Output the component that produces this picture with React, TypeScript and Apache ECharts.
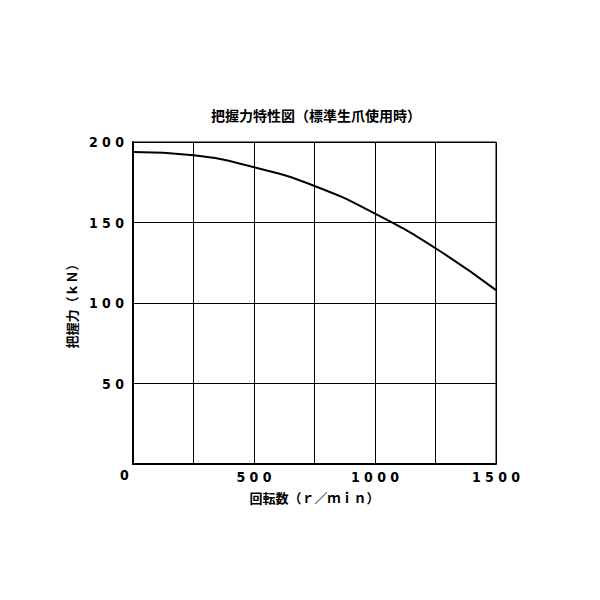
import React, { useEffect, useRef } from "react";
import * as echarts from "echarts";

const speeds = [0, 250, 500, 750, 1000, 1250, 1500];
const gripForce = [193.8, 191.7, 184.3, 172.7, 155.5, 134, 108];
const xTicksShown = [500, 1000, 1500];
const yTicksShown = [50, 100, 150, 200];

const spaced = (v: number) => String(v).split("").join(" ");
const FONT = "'DejaVu Sans Condensed', 'Liberation Mono', monospace";
const CJK = "'Noto Sans CJK JP', 'Noto Sans CJK SC', sans-serif";

export default function App() {
  const ref = useRef<HTMLDivElement>(null);
  useEffect(() => {
    if (!ref.current) return;
    const chart = echarts.init(ref.current, undefined, { renderer: "svg" });
    chart.setOption({
      animation: false,
      backgroundColor: "#ffffff",
      title: {
        text: "把握力特性図（標準生爪使用時）",
        left: 311,
        top: 103,
        textAlign: "center",
        textStyle: { fontFamily: CJK, fontSize: 14, fontWeight: "bold", color: "#000" },
      },
      grid: { left: 133, right: 104, top: 142, bottom: 136, show: true, borderColor: "#000", borderWidth: 1 },
      xAxis: {
        type: "value",
        min: 0,
        max: 1500,
        interval: 250,
        name: "回転数（ｒ／ｍｉｎ）",
        nameLocation: "middle",
        nameGap: 27,
        nameTextStyle: { fontFamily: CJK, fontSize: 13, fontWeight: "bold", color: "#000" },
        axisLine: { show: true, lineStyle: { color: "#000", width: 2 } },
        axisTick: { show: false },
        splitLine: { show: true, lineStyle: { color: "#000", width: 1 } },
        axisLabel: {
          margin: 6,
          color: "#000",
          fontFamily: FONT,
          fontSize: 14,
          fontWeight: "bold",
          formatter: (v: number) => (xTicksShown.includes(v) ? spaced(v) : ""),
        },
      },
      yAxis: {
        type: "value",
        min: 0,
        max: 200,
        interval: 50,
        name: "把握力（ｋＮ）",
        nameLocation: "middle",
        nameGap: 29,
        nameRotate: 90,
        nameTextStyle: { fontFamily: CJK, fontSize: 13, fontWeight: "bold", color: "#000" },
        axisLine: { show: true, lineStyle: { color: "#000", width: 2 } },
        axisTick: { show: false },
        splitLine: { show: true, lineStyle: { color: "#000", width: 1 } },
        axisLabel: {
          margin: 9,
          color: "#000",
          fontFamily: FONT,
          fontSize: 14,
          fontWeight: "bold",
          formatter: (v: number) => (yTicksShown.includes(v) ? spaced(v) : ""),
        },
      },
      graphic: [
        {
          type: "text",
          left: 120,
          top: 468,
          style: { text: "0", fill: "#000", font: `bold 14px ${FONT}` },
        },
      ],
      series: [
        {
          type: "line",
          data: speeds.map((s, i) => [s, gripForce[i]]),
          smooth: true,
          showSymbol: false,
          lineStyle: { color: "#000", width: 2 },
        },
      ],
    });
    return () => chart.dispose();
  }, []);
  return <div ref={ref} style={{ position: "fixed", left: 0, top: 0, width: 600, height: 600 }} />;
}
